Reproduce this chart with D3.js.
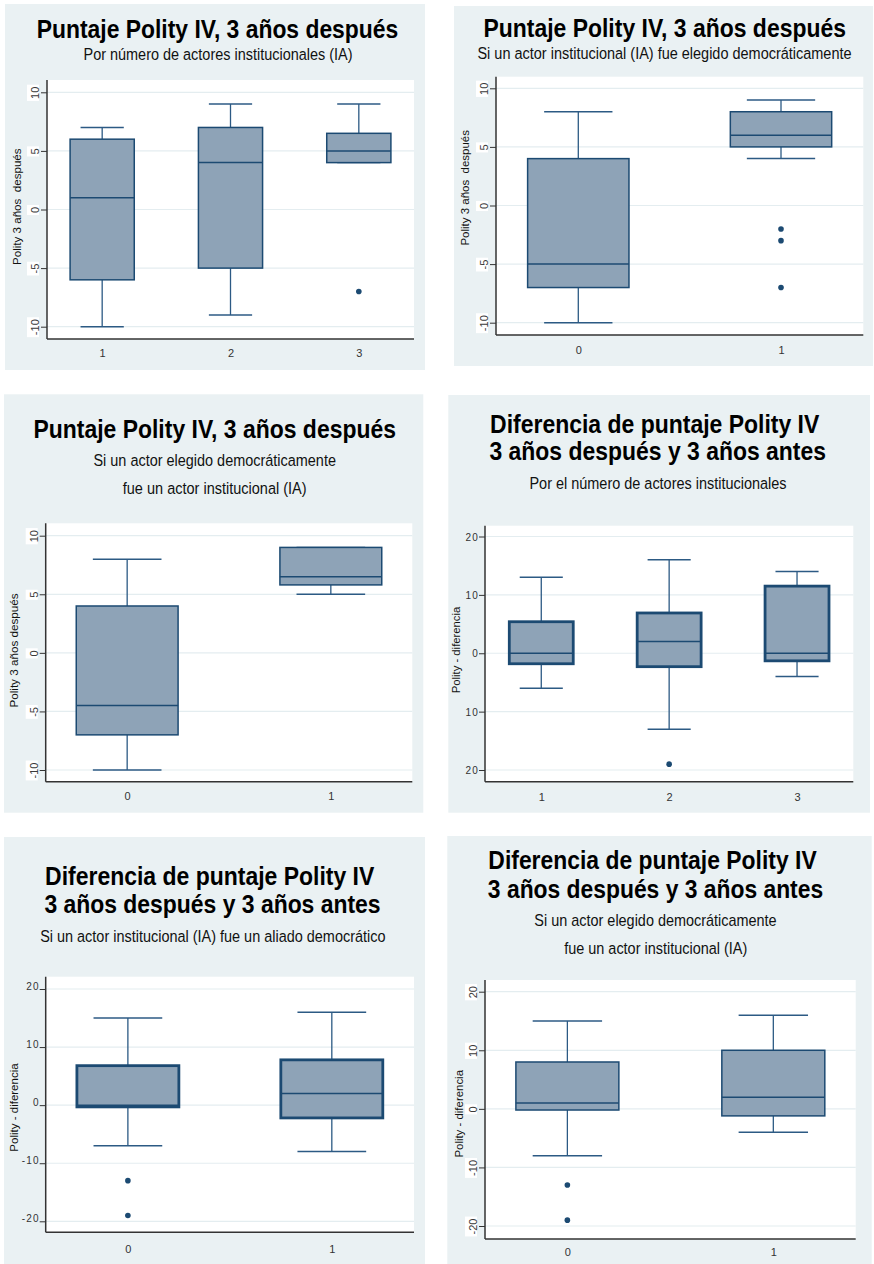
<!DOCTYPE html>
<html>
<head>
<meta charset="utf-8">
<script src="https://cdn.jsdelivr.net/npm/d3@7"></script>
<style>
  html, body { margin: 0; padding: 0; background: #fff; }
  svg { display: block; font-family: "Liberation Sans", Arial, sans-serif; }
</style>
</head>
<body>
<svg id="chart" width="874" height="1264"></svg>
<script>
// ---- data -------------------------------------------------------------
// Groups
const catsIA = ["1", "2", "3"];          // number of institutional actors
const catsBinary = ["0", "1"];           // no / yes

// Five-number summaries per group: [lower whisker, Q1, median, Q3, upper whisker]
const polityAfterByIA = [[-10, -6, 1, 6, 7], [-9, -5, 4, 7, 9], [4, 4, 5, 6.5, 9]];
const polityAfterByIAOutliers = [[], [], [-7]];

const polityAfterIAElected = [[-10, -7, -5, 4, 8], [4, 5, 6, 8, 9]];
const polityAfterIAElectedOutliers = [[], [-2, -3, -7]];

const polityAfterElectedIsIA = [[-10, -7, -4.5, 4, 8], [5, 5.8, 6.5, 9, 9]];
const polityAfterElectedIsIAOutliers = [[], []];

const polityDiffByIA = [[-6, -1.8, 0, 5.4, 13], [-13, -2.3, 2, 6.9, 16], [-4, -1.3, 0, 11.5, 14]];
const polityDiffByIAOutliers = [[], [-19], []];

const polityDiffByAlly = [[-7, -0.3, 0, 6.8, 15], [-8, -2.2, 2, 7.8, 16]];
const polityDiffByAllyOutliers = [[-13, -19], []];

const polityDiffElectedIsIA = [[-8, -0.2, 1, 8, 15], [-4, -1.2, 2, 10, 16]];
const polityDiffElectedIsIAOutliers = [[-13, -19], []];

// Axis ticks
const ticksLevel = [-10, -5, 0, 5, 10];
const tickLabelsLevel = ["-10", "-5", "0", "5", "10"];
const ticksDiff = [-20, -10, 0, 10, 20];
const tickLabelsDiff = ["-20", "-10", "0", "10", "20"];
const tickLabelsDiffPlain = ["20", "10", "0", "10", "20"];

// Texts
const titleLevel = "Puntaje Polity IV, 3 años después";
const titleDiff = ["Diferencia de puntaje Polity IV", "3 años después y 3 años antes"];
const subByIA = "Por número de actores institucionales (IA)";
const subIAElected = "Si un actor institucional (IA) fue elegido democráticamente";
const subElectedIsIA = ["Si un actor elegido democráticamente", "fue un actor institucional (IA)"];
const subByIANumber = "Por el número de actores institucionales";
const subAlly = "Si un actor institucional (IA) fue un aliado democrático";
const yTitleLevelWide = "Polity 3 años  después";
const yTitleLevel = "Polity 3 años después";
const yTitleDiff = "Polity - diferencia";

// ---- styling ------------------------------------------------------------
const panelBg = "#eaf1f3";
const gridColor = "#e4edf0";
const boxFill = "#8ea3b7";
const navy = "#1c4a72";
const whiskerColor = "#2c5a84";
const axisColor = "#333";

// ---- panel setup ---------------------------------------------------------
const panels = [
  {
    cats: catsIA, stats: polityAfterByIA, outliers: polityAfterByIAOutliers,
    ticks: ticksLevel, tickLabels: tickLabelsLevel, yTitle: yTitleLevelWide,
    text: [titleLevel, subByIA],
    L: {
      bg: [5, 4, 420, 366], plot: [47, 80, 414, 339], yPx: [326.7, 92.3], pad: 0.43,
      rotated: true, boxStroke: 1.5, xLabelY: 357,
      yT: { x: 21, cy: 206.7, len: 116.7 },
      lines: [
        { cx: 217.5, y: 37.5, len: 361.7, size: 25, bold: true },
        { cx: 218, y: 60, len: 269.3, size: 17 }
      ]
    }
  },
  {
    cats: catsBinary, stats: polityAfterIAElected, outliers: polityAfterIAElectedOutliers,
    ticks: ticksLevel, tickLabels: tickLabelsLevel, yTitle: yTitleLevelWide,
    text: [titleLevel, subIAElected],
    L: {
      bg: [454, 6, 419, 360], plot: [496, 76.7, 863.3, 335], yPx: [322.7, 88.3], pad: 0.406,
      rotated: true, boxStroke: 1.5, xLabelY: 353.5,
      yT: { x: 469, cy: 187.8, len: 115.7 },
      lines: [
        { cx: 664.7, y: 37, len: 362.7, size: 25, bold: true },
        { cx: 664.5, y: 59, len: 374.3, size: 17 }
      ]
    }
  },
  {
    cats: catsBinary, stats: polityAfterElectedIsIA, outliers: polityAfterElectedIsIAOutliers,
    ticks: ticksLevel, tickLabels: tickLabelsLevel, yTitle: yTitleLevel,
    text: [titleLevel, subElectedIsIA[0], subElectedIsIA[1]],
    L: {
      bg: [4, 394.3, 419.3, 418.4], plot: [45.7, 523.3, 412.3, 781.7], yPx: [770, 535.7], pad: 0.4,
      rotated: true, boxStroke: 1.5, xLabelY: 800,
      yT: { x: 17.5, cy: 650.5, len: 114.3 },
      lines: [
        { cx: 214.7, y: 437.7, len: 362.7, size: 25, bold: true },
        { cx: 214.7, y: 466, len: 242.7, size: 17 },
        { cx: 214.7, y: 494.3, len: 184, size: 17 }
      ]
    }
  },
  {
    cats: catsIA, stats: polityDiffByIA, outliers: polityDiffByIAOutliers,
    ticks: ticksDiff, tickLabels: tickLabelsDiffPlain, yTitle: yTitleDiff,
    text: [titleDiff[0], titleDiff[1], subByIANumber],
    L: {
      bg: [448.3, 395, 421.7, 417.7], plot: [485, 525.7, 853.3, 781.7], yPx: [770, 536.5], pad: 0.44,
      rotated: false, labelDy: 3.5, boxStroke: 2.8, xLabelY: 801.5,
      yT: { x: 460, cy: 650, len: 86.7 },
      lines: [
        { cx: 654.7, y: 432.7, len: 329.3, size: 25, bold: true },
        { cx: 657.7, y: 460, len: 336.7, size: 25, bold: true },
        { cx: 658, y: 489.3, len: 257.4, size: 17 }
      ]
    }
  },
  {
    cats: catsBinary, stats: polityDiffByAlly, outliers: polityDiffByAllyOutliers,
    ticks: ticksDiff, tickLabels: tickLabelsDiff, yTitle: yTitleDiff,
    text: [titleDiff[0], titleDiff[1], subAlly],
    L: {
      bg: [4, 837, 421, 427], plot: [45.7, 976.7, 414, 1232.3], yPx: [1221.3, 989], pad: 0.403,
      rotated: false, labelDy: 0.5, boxStroke: 2.8, xLabelY: 1253,
      yT: { x: 18, cy: 1107.5, len: 88.3 },
      lines: [
        { cx: 209.7, y: 885, len: 329.3, size: 25, bold: true },
        { cx: 212.5, y: 913.3, len: 336.4, size: 25, bold: true },
        { cx: 212.8, y: 941.7, len: 345.7, size: 17 }
      ]
    }
  },
  {
    cats: catsBinary, stats: polityDiffElectedIsIA, outliers: polityDiffElectedIsIAOutliers,
    ticks: ticksDiff, tickLabels: tickLabelsDiff, yTitle: yTitleDiff,
    text: [titleDiff[0], titleDiff[1], subElectedIsIA[0], subElectedIsIA[1]],
    L: {
      bg: [447.3, 836, 424.4, 428], plot: [485, 980, 855.7, 1239], yPx: [1226, 991.7], pad: 0.4,
      rotated: true, boxStroke: 1.5, xLabelY: 1256,
      yT: { x: 462.5, cy: 1113.8, len: 87.7 },
      lines: [
        { cx: 652.5, y: 869.3, len: 328.4, size: 25, bold: true },
        { cx: 655.5, y: 897.7, len: 335.6, size: 25, bold: true },
        { cx: 655.5, y: 926, len: 242.4, size: 17 },
        { cx: 655.7, y: 954.3, len: 183.3, size: 17 }
      ]
    }
  }
];

const svg = d3.select("#chart");

// Place a text centred at (cx, y) and squeeze it horizontally to a given width.
function fittedText(parent, str, cx, y, width, attrs, rotate) {
  const t = parent.append("text").attr("text-anchor", "middle").attr("x", 0).attr("y", 0);
  Object.entries(attrs).forEach(([k, v]) => t.attr(k, v));
  t.style("white-space", "pre").text(str);
  const natural = t.node().getComputedTextLength();
  const k = natural > 0 ? width / natural : 1;
  t.attr("transform", `translate(${cx},${y})${rotate ? " rotate(-90)" : ""} scale(${k},1)`);
  return t;
}

function drawPanel(p) {
  const L = p.L;
  const g = svg.append("g");
  const [l, t, r, b] = L.plot;

  // panel background and plot region
  g.append("rect").attr("x", L.bg[0]).attr("y", L.bg[1])
    .attr("width", L.bg[2]).attr("height", L.bg[3]).attr("fill", panelBg);
  g.append("rect").attr("x", l).attr("y", t)
    .attr("width", r - l).attr("height", b - t).attr("fill", "#fff");

  // titles
  p.text.forEach((txt, i) => {
    const s = L.lines[i];
    fittedText(g, txt, s.cx, s.y, s.len, {
      "font-size": s.size,
      "font-weight": s.bold ? "bold" : "normal",
      "fill": s.bold ? "#000" : "#111"
    }, false);
  });

  // scales
  const y = d3.scaleLinear()
    .domain([d3.min(p.ticks), d3.max(p.ticks)])
    .range(L.yPx);
  const x = d3.scalePoint().domain(p.cats).range([l, r]).padding(L.pad);
  const step = x.step();
  const bw = step * 0.5;
  const cw = step * 0.337;

  // gridlines
  g.append("g").selectAll("line").data(p.ticks).join("line")
    .attr("x1", l).attr("x2", r)
    .attr("y1", d => y(d)).attr("y2", d => y(d))
    .attr("stroke", gridColor).attr("stroke-width", 1.2);

  // boxes
  const boxes = g.append("g").selectAll("g")
    .data(p.stats.map((s, i) => ({ cat: p.cats[i], s, out: p.outliers[i] })))
    .join("g");

  boxes.each(function (d) {
    const bx = d3.select(this);
    const cx = x(d.cat);
    const [lo, q1, med, q3, hi] = d.s;
    // whiskers
    bx.append("line").attr("x1", cx).attr("x2", cx)
      .attr("y1", y(q3)).attr("y2", y(hi))
      .attr("stroke", whiskerColor).attr("stroke-width", 1.3);
    bx.append("line").attr("x1", cx).attr("x2", cx)
      .attr("y1", y(q1)).attr("y2", y(lo))
      .attr("stroke", whiskerColor).attr("stroke-width", 1.3);
    // caps
    [lo, hi].forEach(v => {
      bx.append("line").attr("x1", cx - cw / 2).attr("x2", cx + cw / 2)
        .attr("y1", y(v)).attr("y2", y(v))
        .attr("stroke", whiskerColor).attr("stroke-width", 1.5);
    });
    // box
    bx.append("rect")
      .attr("x", cx - bw / 2).attr("width", bw)
      .attr("y", y(q3)).attr("height", y(q1) - y(q3))
      .attr("fill", boxFill)
      .attr("stroke", navy).attr("stroke-width", L.boxStroke);
    // median
    bx.append("line").attr("x1", cx - bw / 2).attr("x2", cx + bw / 2)
      .attr("y1", y(med)).attr("y2", y(med))
      .attr("stroke", navy).attr("stroke-width", 1.5);
    // outside values
    bx.selectAll("circle").data(d.out).join("circle")
      .attr("cx", cx).attr("cy", v => y(v)).attr("r", 2.8)
      .attr("fill", navy);
  });

  // y axis
  const yAxis = d3.axisLeft(y)
    .tickValues(p.ticks)
    .tickFormat((d, i) => p.tickLabels[i])
    .tickSize(6).tickSizeOuter(0).tickPadding(0);
  const ya = g.append("g").attr("transform", `translate(${l},0)`).call(yAxis);
  ya.select(".domain").remove();
  ya.selectAll(".tick line").attr("stroke", axisColor).attr("stroke-width", 1);
  if (L.rotated) {
    ya.selectAll(".tick").each(function () {
      const tk = d3.select(this);
      const txt = tk.select("text");
      txt.attr("x", null).attr("dy", null)
        .attr("transform", "translate(-8,0) rotate(-90)")
        .attr("text-anchor", "middle")
        .attr("font-size", 11)
        .attr("font-family", "Liberation Sans, Arial, sans-serif")
        .attr("fill", "#3a3a3a");
      const len = txt.node().getComputedTextLength();
      tk.insert("rect", "text")
        .attr("x", -20).attr("width", 12)
        .attr("y", -len / 2 - 2).attr("height", len + 4)
        .attr("fill", "#fff");
    });
  } else {
    ya.selectAll(".tick text")
      .attr("x", -6).attr("dy", null).attr("y", L.labelDy)
      .attr("font-size", 10)
      .attr("letter-spacing", 1.2)
      .attr("font-family", "Liberation Sans, Arial, sans-serif")
      .attr("fill", "#333");
  }

  // x axis labels
  const xAxis = d3.axisBottom(x).tickSize(0).tickPadding(0);
  const xa = g.append("g").attr("transform", `translate(0,${b})`).call(xAxis);
  xa.select(".domain").remove();
  xa.selectAll(".tick text")
    .attr("y", L.xLabelY - b).attr("dy", null)
    .attr("font-size", 11)
    .attr("font-family", "Liberation Sans, Arial, sans-serif")
    .attr("fill", "#333");

  // axis lines
  g.append("line").attr("x1", l).attr("x2", l).attr("y1", t).attr("y2", b)
    .attr("stroke", axisColor).attr("stroke-width", 1.5);
  g.append("line").attr("x1", l).attr("x2", r).attr("y1", b).attr("y2", b)
    .attr("stroke", axisColor).attr("stroke-width", 1.5);

  // y axis title
  fittedText(g, p.yTitle, L.yT.x, L.yT.cy, L.yT.len,
    { "font-size": 11.5, "fill": "#111" }, true);
}

panels.forEach(drawPanel);
</script>
</body>
</html>
